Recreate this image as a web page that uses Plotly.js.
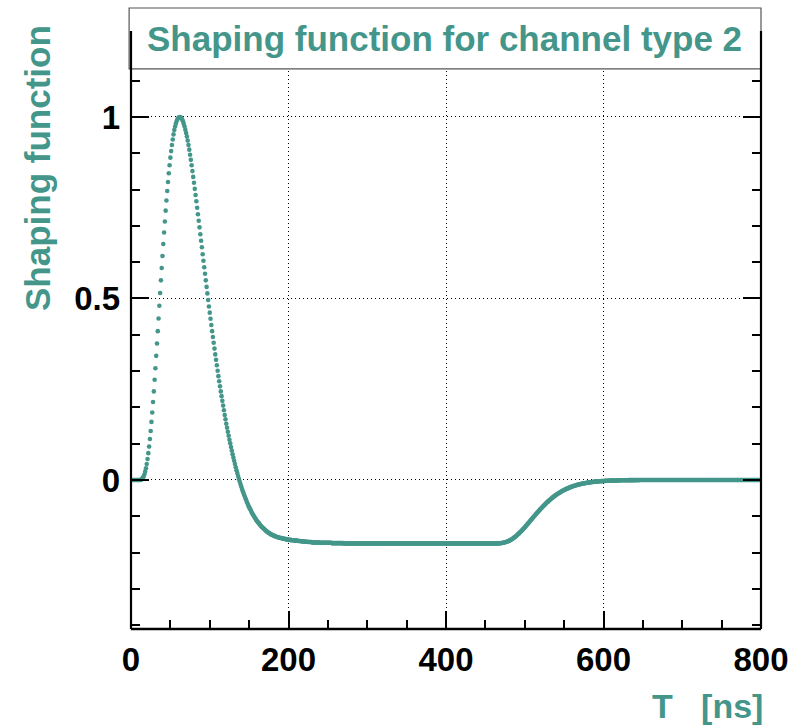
<!DOCTYPE html>
<html>
<head>
<meta charset="utf-8">
<script src="https://cdn.plot.ly/plotly-3.0.1.min.js"></script>
<style>
  html, body { margin: 0; padding: 0; background: #ffffff; }
  #chart { width: 794px; height: 728px; }
</style>
</head>
<body>
<div id="chart"></div>
<script>
const sampleStartNs = 0;   // first sample time (ns)
const sampleStepNs = 1;    // sample spacing (ns)

// t = 0 .. 199 ns : main pulse and start of the undershoot
const pulseShape = [
  0,0,0,0,0,0,0,0,0,0,
  0,0,0,0.001,0.003,0.006,0.009,0.015,0.023,0.032,
  0.044,0.058,0.074,0.092,0.113,0.135,0.160,0.186,0.215,0.244,
  0.276,0.308,0.342,0.376,0.410,0.445,0.480,0.515,0.550,0.584,
  0.617,0.650,0.682,0.712,0.742,0.770,0.796,0.821,0.845,0.867,
  0.888,0.906,0.923,0.938,0.952,0.964,0.974,0.982,0.989,0.994,
  0.997,0.999,1.000,0.999,0.997,0.993,0.988,0.981,0.974,0.965,
  0.956,0.946,0.935,0.923,0.910,0.896,0.882,0.867,0.851,0.835,
  0.819,0.802,0.785,0.768,0.750,0.732,0.714,0.696,0.677,0.659,
  0.641,0.622,0.604,0.586,0.568,0.550,0.532,0.514,0.496,0.478,
  0.461,0.444,0.427,0.410,0.394,0.378,0.362,0.346,0.331,0.316,
  0.301,0.286,0.272,0.258,0.244,0.231,0.218,0.205,0.192,0.179,
  0.167,0.155,0.144,0.133,0.122,0.111,0.101,0.091,0.081,0.071,
  0.062,0.053,0.044,0.035,0.027,0.019,0.011,0.003,-0.004,-0.011,
  -0.018,-0.025,-0.031,-0.037,-0.043,-0.049,-0.054,-0.060,-0.065,-0.070,
  -0.075,-0.079,-0.083,-0.088,-0.092,-0.096,-0.099,-0.103,-0.106,-0.110,
  -0.113,-0.116,-0.118,-0.121,-0.124,-0.127,-0.129,-0.131,-0.133,-0.135,
  -0.137,-0.139,-0.141,-0.143,-0.144,-0.146,-0.147,-0.149,-0.150,-0.151,
  -0.152,-0.153,-0.154,-0.155,-0.156,-0.157,-0.157,-0.158,-0.159,-0.159,
  -0.160,-0.160,-0.161,-0.161,-0.162,-0.162,-0.163,-0.163,-0.164,-0.164
];

// t = 200 .. 465 ns : flat undershoot
const plateau = [
  -0.165,-0.165,-0.165,-0.165,-0.166,-0.166,-0.166,-0.166,-0.167,-0.167,
  -0.167,-0.167,-0.168,-0.168,-0.168,-0.168,-0.169,-0.169,-0.169,-0.169,
  -0.170,-0.170,-0.170,-0.170,-0.170,-0.171,-0.171,-0.171,-0.171,-0.171,
  -0.172,-0.172,-0.172,-0.172,-0.172,-0.172,-0.172,-0.172,-0.172,-0.172,
  -0.173,-0.173,-0.173,-0.173,-0.173,-0.173,-0.173,-0.173,-0.173,-0.173,
  -0.173,-0.173,-0.173,-0.173,-0.173,-0.174,-0.174,-0.174,-0.174,-0.174,
  -0.174,-0.174,-0.174,-0.174,-0.174,-0.174,-0.174,-0.174,-0.174,-0.174,
  -0.175,-0.175,-0.175,-0.175,-0.175,-0.175,-0.175,-0.175,-0.175,-0.175,
  -0.175,-0.175,-0.175,-0.175,-0.175,-0.175,-0.175,-0.175,-0.175,-0.175,
  -0.175,-0.175,-0.175,-0.175,-0.175,-0.175,-0.175,-0.175,-0.175,-0.175,
  -0.175,-0.175,-0.175,-0.175,-0.175,-0.175,-0.175,-0.175,-0.175,-0.175,
  -0.175,-0.175,-0.175,-0.175,-0.175,-0.175,-0.175,-0.175,-0.175,-0.175,
  -0.175,-0.175,-0.175,-0.175,-0.175,-0.175,-0.175,-0.175,-0.175,-0.175,
  -0.175,-0.175,-0.175,-0.175,-0.175,-0.175,-0.175,-0.175,-0.175,-0.175,
  -0.175,-0.175,-0.175,-0.175,-0.175,-0.175,-0.175,-0.175,-0.175,-0.175,
  -0.175,-0.175,-0.175,-0.175,-0.175,-0.175,-0.175,-0.175,-0.175,-0.175,
  -0.175,-0.175,-0.175,-0.175,-0.175,-0.175,-0.175,-0.175,-0.175,-0.175,
  -0.175,-0.175,-0.175,-0.175,-0.175,-0.175,-0.175,-0.175,-0.175,-0.175,
  -0.175,-0.175,-0.175,-0.175,-0.175,-0.175,-0.175,-0.175,-0.175,-0.175,
  -0.175,-0.175,-0.175,-0.175,-0.175,-0.175,-0.175,-0.175,-0.175,-0.175,
  -0.175,-0.175,-0.175,-0.175,-0.175,-0.175,-0.175,-0.175,-0.175,-0.175,
  -0.175,-0.175,-0.175,-0.175,-0.175,-0.175,-0.175,-0.175,-0.175,-0.175,
  -0.175,-0.175,-0.175,-0.175,-0.175,-0.175,-0.175,-0.175,-0.175,-0.175,
  -0.175,-0.175,-0.175,-0.175,-0.175,-0.175,-0.175,-0.175,-0.175,-0.175,
  -0.175,-0.175,-0.175,-0.175,-0.175,-0.175,-0.175,-0.175,-0.175,-0.175,
  -0.175,-0.175,-0.175,-0.175,-0.175,-0.175,-0.175,-0.175,-0.175,-0.175,
  -0.175,-0.175,-0.175,-0.175,-0.175,-0.175
];

// t = 466 .. 660 ns : recovery back to the baseline
const recovery = [
  -0.1747,-0.1746,-0.1744,-0.1741,
  -0.1738,-0.1735,-0.1732,-0.1727,-0.1722,-0.1716,-0.1710,-0.1702,-0.1694,-0.1685,
  -0.1675,-0.1664,-0.1652,-0.1639,-0.1626,-0.1611,-0.1595,-0.1579,-0.1562,-0.1543,
  -0.1524,-0.1505,-0.1485,-0.1464,-0.1443,-0.1421,-0.1399,-0.1375,-0.1352,-0.1328,
  -0.1304,-0.1279,-0.1254,-0.1229,-0.1203,-0.1177,-0.1151,-0.1126,-0.1100,-0.1074,
  -0.1049,-0.1023,-0.0998,-0.0972,-0.0947,-0.0922,-0.0897,-0.0873,-0.0848,-0.0824,
  -0.0800,-0.0777,-0.0754,-0.0731,-0.0708,-0.0687,-0.0665,-0.0644,-0.0623,-0.0603,
  -0.0583,-0.0563,-0.0544,-0.0526,-0.0508,-0.0490,-0.0473,-0.0457,-0.0440,-0.0424,
  -0.0408,-0.0394,-0.0379,-0.0365,-0.0351,-0.0338,-0.0325,-0.0312,-0.0299,-0.0288,
  -0.0277,-0.0266,-0.0255,-0.0245,-0.0235,-0.0225,-0.0216,-0.0207,-0.0199,-0.0190,
  -0.0182,-0.0175,-0.0167,-0.0160,-0.0153,-0.0147,-0.0140,-0.0134,-0.0128,-0.0123,
  -0.0117,-0.0112,-0.0107,-0.0102,-0.0098,-0.0093,-0.0089,-0.0085,-0.0081,-0.0077,
  -0.0073,-0.0070,-0.0067,-0.0064,-0.0061,-0.0058,-0.0055,-0.0053,-0.0050,-0.0048,
  -0.0045,-0.0043,-0.0041,-0.0039,-0.0037,-0.0036,-0.0034,-0.0032,-0.0031,-0.0029,
  -0.0027,-0.0026,-0.0025,-0.0024,-0.0022,-0.0021,-0.0020,-0.0019,-0.0018,-0.0017,
  -0.0016,-0.0015,-0.0015,-0.0014,-0.0013,-0.0013,-0.0012,-0.0011,-0.0011,-0.0010,
  -0.0010,-0.0009,-0.0009,-0.0009,-0.0009,-0.0009,-0.0008,-0.0008,-0.0007,-0.0007,
  -0.0006,-0.0006,-0.0005,-0.0005,-0.0005,-0.0005,-0.0004,-0.0004,-0.0004,-0.0004,
  -0.0003,-0.0003,-0.0003,-0.0003,-0.0003,-0.0003,-0.0002,-0.0002,-0.0002,-0.0002,
  -0.0002,-0.0002,-0.0002,-0.0001,-0.0001,-0.0001,-0.0001,-0.0001,-0.0001,-0.0001,
  -0.0001
];

// t = 661 .. 800 ns : baseline
const baseline = [
  0,0,0,0,0,0,0,0,0,
  0,0,0,0,0,0,0,0,0,0,
  0,0,0,0,0,0,0,0,0,0,
  0,0,0,0,0,0,0,0,0,0,
  0,0,0,0,0,0,0,0,0,0,
  0,0,0,0,0,0,0,0,0,0,
  0,0,0,0,0,0,0,0,0,0,
  0,0,0,0,0,0,0,0,0,0,
  0,0,0,0,0,0,0,0,0,0,
  0,0,0,0,0,0,0,0,0,0,
  0,0,0,0,0,0,0,0,0,0,
  0,0,0,0,0,0,0,0,0,0,
  0,0,0,0,0,0,0,0,0,0,
  0,0,0,0,0,0,0,0,0,0,
  0
];

const xTickValues = [0, 200, 400, 600, 800];
const xTickLabels = ['0', '200', '400', '600', '800'];
const yTickValues = [0, 0.5, 1];
const yTickLabels = ['0', '0.5', '1'];

const chartTitle = 'Shaping function for channel type 2';
const xTitle = 'T\u00a0\u00a0\u00a0[ns]';
const yTitle = 'Shaping function';

// ---- Styling ----
const teal = '#44968a';
const fontFam = '"Liberation Sans", Arial, Helvetica, sans-serif';

const shaping = pulseShape.concat(plateau, recovery, baseline);

const trace = {
  type: 'scatter',
  mode: 'markers',
  x0: sampleStartNs,
  dx: sampleStepNs,
  y: shaping,
  marker: { color: teal, size: 4.6, line: { width: 0 } },
  hoverinfo: 'skip'
};

const axisCommon = {
  ticks: 'inside',
  ticklen: 18,
  tickwidth: 2,
  tickcolor: '#000',
  showline: false,
  mirror: 'ticks',
  zeroline: false,
  showgrid: true,
  gridcolor: '#000',
  gridwidth: 1,
  griddash: '1px,3px',
  tickfont: { family: fontFam, size: 33, color: '#000', weight: 'bold' },
  fixedrange: true
};

const layout = {
  width: 794,
  height: 728,
  paper_bgcolor: '#ffffff',
  plot_bgcolor: '#ffffff',
  showlegend: false,
  margin: { l: 131, r: 33, t: 31, b: 99, pad: 0 },
  xaxis: Object.assign({}, axisCommon, {
    range: [0, 800],
    tickmode: 'array',
    tickvals: xTickValues,
    ticktext: xTickLabels,
    ticklabelstandoff: 8,
    minor: { dtick: 50, tick0: 0, ticks: 'inside', ticklen: 9, tickwidth: 2, tickcolor: '#000', showgrid: false }
  }),
  yaxis: Object.assign({}, axisCommon, {
    range: [-0.4105, 1.2369],
    tickmode: 'array',
    tickvals: yTickValues,
    ticktext: yTickLabels,
    ticklabelstandoff: 10,
    minor: { dtick: 0.1, tick0: 0, ticks: 'inside', ticklen: 9, tickwidth: 2, tickcolor: '#000', showgrid: false }
  }),
  shapes: [
    // title box (drawn over the top of the frame)
    { type: 'rect', xref: 'paper', yref: 'paper', x0: -0.003, x1: 1.0, y0: 0.9365, y1: 1.0385,
      fillcolor: '#ffffff', line: { color: '#555555', width: 1.2 }, layer: 'above' },
    // frame lines (drawn over the title box like in the reference)
    { type: 'line', xref: 'paper', yref: 'paper', x0: 0, x1: 0, y0: 0, y1: 1,
      line: { color: '#000', width: 2.2 }, layer: 'above' },
    { type: 'line', xref: 'paper', yref: 'paper', x0: 1, x1: 1, y0: 0, y1: 1,
      line: { color: '#000', width: 2.2 }, layer: 'above' },
    { type: 'line', xref: 'paper', yref: 'paper', x0: 0, x1: 1, y0: 0, y1: 0,
      line: { color: '#000', width: 2.4 }, layer: 'above' }
  ],
  annotations: [
    { text: chartTitle, xref: 'paper', yref: 'paper', x: 0.4984, y: 0.9875,
      xanchor: 'center', yanchor: 'middle', showarrow: false,
      font: { family: fontFam, size: 35, color: teal, weight: 'bold' } },
    { text: yTitle, xref: 'paper', yref: 'paper', x: -0.1476, y: 1.0134,
      xanchor: 'center', yanchor: 'top', textangle: -90, showarrow: false,
      font: { family: fontFam, size: 35, color: teal, weight: 'bold' } },
    { text: xTitle, xref: 'paper', yref: 'paper', x: 1.0063, y: -0.1290,
      xanchor: 'right', yanchor: 'middle', showarrow: false,
      font: { family: fontFam, size: 34, color: teal, weight: 'bold' } }
  ]
};

Plotly.newPlot('chart', [trace], layout, { displayModeBar: false, staticPlot: true });
</script>
</body>
</html>
